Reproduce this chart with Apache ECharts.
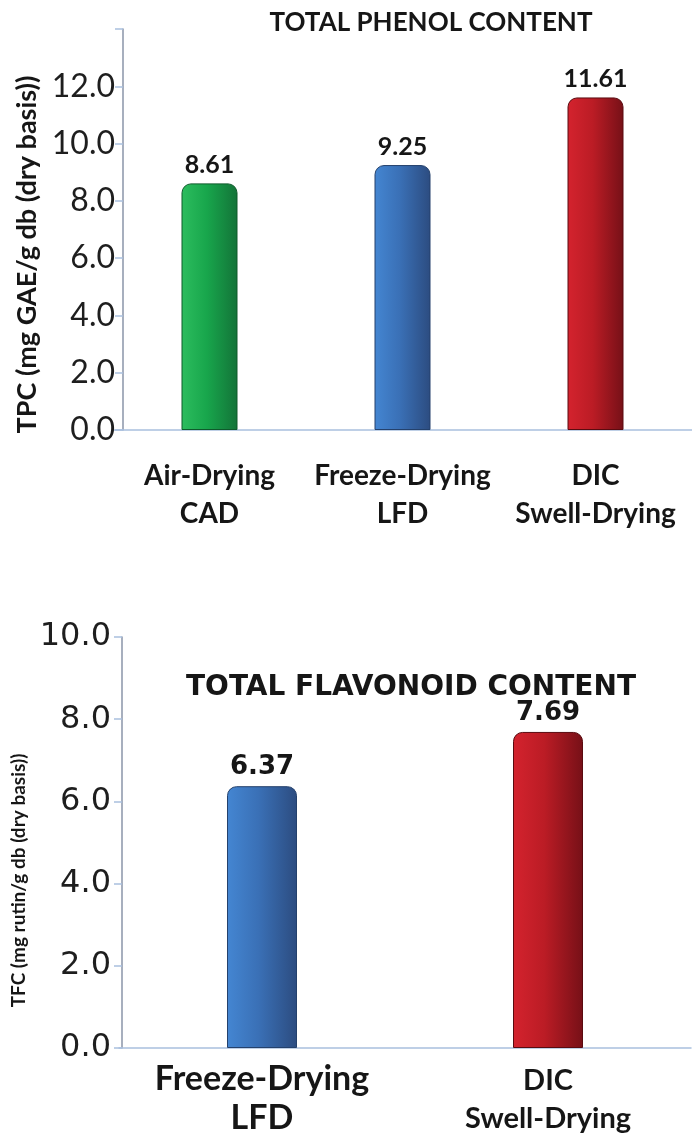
<!DOCTYPE html>
<html>
<head>
<meta charset="utf-8">
<style>
  html, body { margin: 0; padding: 0; background: #ffffff; }
  #chart { width: 692px; height: 1146px; }
</style>
<script src="https://cdn.jsdelivr.net/npm/echarts@6.0.0/dist/echarts.min.js"></script>
</head>
<body>
<div id="chart"></div>
<script>
// Total phenol content (TPC) by drying method
const phenolCategories = ['Air-Drying\nCAD', 'Freeze-Drying\nLFD', 'DIC\nSwell-Drying'];
const phenolValues = [8.61, 9.25, 11.61];
const phenolTicks = [0, 2, 4, 6, 8, 10, 12, 14];
const phenolTickLabels = ['0.0', '2.0', '4.0', '6.0', '8.0', '10.0', '12.0', ''];

// Total flavonoid content (TFC) by drying method
const flavonoidCategories = ['Freeze-Drying\nLFD', 'DIC\nSwell-Drying'];
const flavonoidValues = [6.37, 7.69];
const flavonoidTicks = [0, 2, 4, 6, 8, 10];
const flavonoidTickLabels = ['0.0', '2.0', '4.0', '6.0', '8.0', '10.0'];

// Bar fills: horizontal gradients give the rounded, cylinder-like look
function barFill(light, mid, dark, rim) {
  return {
    color: new echarts.graphic.LinearGradient(0, 0, 1, 0, [
      { offset: 0, color: light },
      { offset: 0.45, color: mid },
      { offset: 1, color: dark }
    ]),
    borderColor: rim,
    borderWidth: 1,
    borderRadius: [9, 9, 0, 0]
  };
}
const GREEN = barFill('#2cbd5e', '#18a64c', '#137338', '#0e5a2b');
const BLUE = barFill('#4486d2', '#3a70b6', '#2c4c80', '#24416c');
const RED = barFill('#d4232e', '#bb1c25', '#761017', '#5a0b10');

const phenolStyles = [GREEN, BLUE, RED];
const flavonoidStyles = [BLUE, RED];

const TEXT = '#161616';

function tickFormatter(ticks, labels) {
  return function (v) {
    const i = ticks.indexOf(Math.round(v * 1000) / 1000);
    return i >= 0 ? labels[i] : '';
  };
}

// Shows only the given category on an axis (the flavonoid labels use two sizes)
function onlyCategory(name) {
  return function (v) { return v === name ? v : ''; };
}

const chart = echarts.init(document.getElementById('chart'), null, { renderer: 'canvas' });

const flavonoidAxisBase = {
  gridIndex: 1, type: 'category', position: 'bottom', data: flavonoidCategories,
  axisTick: { show: false }
};

chart.setOption({
  animation: false,
  backgroundColor: '#ffffff',
  title: [
    {
      text: 'TOTAL PHENOL CONTENT',
      left: 426, top: 5, textAlign: 'center',
      textStyle: { fontFamily: 'Lato', fontWeight: 'bold', fontSize: 26, color: TEXT }
    },
    {
      text: 'TOTAL FLAVONOID CONTENT',
      left: 406, top: 669, textAlign: 'center',
      textStyle: { fontFamily: 'DejaVu Sans', fontWeight: 'bold', fontSize: 28, color: TEXT }
    }
  ],
  grid: [
    { left: 113, width: 596, top: 29, height: 401 },
    { left: 119, width: 572, top: 637, height: 411 }
  ],
  xAxis: [
    {
      gridIndex: 0, type: 'category', position: 'bottom', data: phenolCategories,
      axisLine: { lineStyle: { color: '#a9c0de', width: 1.5 } },
      axisTick: { show: false },
      axisLabel: {
        interval: 0, margin: 27, lineHeight: 38,
        fontFamily: 'Lato', fontWeight: 'bold', fontSize: 28, color: TEXT
      }
    },
    Object.assign({}, flavonoidAxisBase, {
      axisLine: { lineStyle: { color: '#a9c0de', width: 1.5 } },
      axisLabel: {
        interval: 0, margin: 12, lineHeight: 39,
        fontFamily: 'Lato', fontWeight: 'bold', fontSize: 34, color: TEXT,
        formatter: onlyCategory(flavonoidCategories[0])
      }
    }),
    Object.assign({}, flavonoidAxisBase, {
      axisLine: { show: false },
      axisLabel: {
        interval: 0, margin: 14, lineHeight: 38,
        fontFamily: 'Lato', fontWeight: 'bold', fontSize: 29, color: TEXT,
        formatter: onlyCategory(flavonoidCategories[1])
      }
    })
  ],
  yAxis: [
    {
      gridIndex: 0, type: 'value',
      min: phenolTicks[0], max: phenolTicks[phenolTicks.length - 1],
      interval: phenolTicks[1] - phenolTicks[0],
      offset: -10,
      axisLine: { show: true, lineStyle: { color: '#8a95a8', width: 1.5 } },
      axisTick: { show: true, length: 8, lineStyle: { color: '#a9c0de', width: 1.5 } },
      splitLine: { show: false },
      axisLabel: {
        margin: 8, fontFamily: 'Lato', fontSize: 32, color: '#1e1e1e',
        formatter: tickFormatter(phenolTicks, phenolTickLabels)
      },
      name: 'TPC (mg GAE/g db (dry basis))',
      nameLocation: 'middle', nameRotate: 90, nameGap: 79,
      nameTextStyle: { fontFamily: 'Lato', fontWeight: 'bold', fontSize: 27, color: TEXT, padding: [0, 50, 0, 0] }
    },
    {
      gridIndex: 1, type: 'value',
      min: flavonoidTicks[0], max: flavonoidTicks[flavonoidTicks.length - 1],
      interval: flavonoidTicks[1] - flavonoidTicks[0],
      offset: -3,
      axisLine: { show: true, lineStyle: { color: '#8a95a8', width: 1.5 } },
      axisTick: { show: true, length: 8, lineStyle: { color: '#a9c0de', width: 1.5 } },
      splitLine: { show: false },
      axisLabel: {
        margin: 11, fontFamily: 'DejaVu Sans', fontSize: 32, color: '#1e1e1e',
        formatter: tickFormatter(flavonoidTicks, flavonoidTickLabels)
      },
      name: 'TFC (mg rutin/g db (dry basis))',
      nameLocation: 'middle', nameRotate: 90, nameGap: 88,
      nameTextStyle: { fontFamily: 'Lato', fontWeight: 'bold', fontSize: 19, color: TEXT, padding: [0, 76, 0, 0] }
    }
  ],
  series: [
    {
      type: 'bar', xAxisIndex: 0, yAxisIndex: 0, barWidth: 56,
      data: phenolValues.map(function (v, i) { return { value: v, itemStyle: phenolStyles[i] }; }),
      label: {
        show: true, position: 'top', distance: 6,
        formatter: function (p) { return p.value.toFixed(2); },
        fontFamily: 'Lato', fontWeight: 'bold', fontSize: 25, color: TEXT
      }
    },
    {
      type: 'bar', xAxisIndex: 1, yAxisIndex: 1, barWidth: 70,
      data: flavonoidValues.map(function (v, i) { return { value: v, itemStyle: flavonoidStyles[i] }; }),
      label: {
        show: true, position: 'top', distance: 6,
        formatter: function (p) { return p.value.toFixed(2); },
        fontFamily: 'DejaVu Sans', fontWeight: 'bold', fontSize: 26, color: TEXT
      }
    }
  ]
});
</script>
</body>
</html>
